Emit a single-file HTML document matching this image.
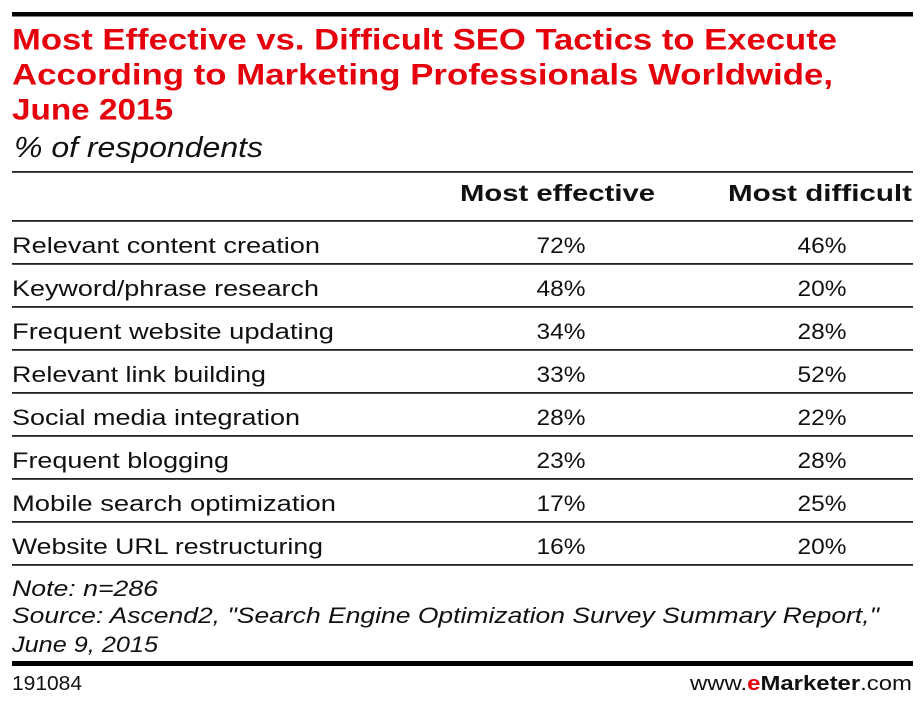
<!DOCTYPE html>
<html>
<head>
<meta charset="utf-8">
<style>
  html, body { margin:0; padding:0; background:#fff; }
  svg { display:block; }
  .t { font-family:"Liberation Sans", sans-serif; font-weight:bold; fill:#e6000c; font-size:30px; }
  .s { font-family:"Liberation Sans", sans-serif; font-style:italic; fill:#111; font-size:29px; }
  .h { font-family:"Liberation Sans", sans-serif; font-weight:bold; fill:#111; font-size:23px; }
  .r { font-family:"Liberation Sans", sans-serif; fill:#111; font-size:22.5px; }
  .n { font-family:"Liberation Sans", sans-serif; font-style:italic; fill:#111; font-size:22px; }
  .f { font-family:"Liberation Sans", sans-serif; fill:#111; font-size:20px; }
</style>
</head>
<body>
<svg width="922" height="706" viewBox="0 0 922 706" xmlns="http://www.w3.org/2000/svg">
  <rect x="0" y="0" width="922" height="706" fill="#fff"/>
  <rect x="12" y="12" width="901" height="4.5" fill="#000"/>

  <text class="t" x="12" y="49.5" textLength="825" lengthAdjust="spacingAndGlyphs">Most Effective vs. Difficult SEO Tactics to Execute</text>
  <text class="t" x="12" y="84.5" textLength="821" lengthAdjust="spacingAndGlyphs">According to Marketing Professionals Worldwide,</text>
  <text class="t" x="12" y="119.5" textLength="161" lengthAdjust="spacingAndGlyphs">June 2015</text>
  <text class="s" x="14" y="157" textLength="249" lengthAdjust="spacingAndGlyphs">% of respondents</text>

  <rect x="12" y="171" width="901" height="1.8" fill="#222"/>
  <rect x="12" y="220" width="901" height="1.8" fill="#222"/>
  <rect x="12" y="263" width="901" height="1.8" fill="#222"/>
  <rect x="12" y="306" width="901" height="1.8" fill="#222"/>
  <rect x="12" y="349" width="901" height="1.8" fill="#222"/>
  <rect x="12" y="392" width="901" height="1.8" fill="#222"/>
  <rect x="12" y="435" width="901" height="1.8" fill="#222"/>
  <rect x="12" y="478" width="901" height="1.8" fill="#222"/>
  <rect x="12" y="521" width="901" height="1.8" fill="#222"/>
  <rect x="12" y="564" width="901" height="1.8" fill="#222"/>

  <text class="h" x="460" y="201" textLength="195" lengthAdjust="spacingAndGlyphs">Most effective</text>
  <text class="h" x="728" y="201" textLength="184" lengthAdjust="spacingAndGlyphs">Most difficult</text>

  <g>
    <text class="r" x="12" y="253" textLength="308" lengthAdjust="spacingAndGlyphs">Relevant content creation</text>
    <text class="r" x="561" y="253" text-anchor="middle" textLength="49" lengthAdjust="spacingAndGlyphs">72%</text>
    <text class="r" x="822" y="253" text-anchor="middle" textLength="49" lengthAdjust="spacingAndGlyphs">46%</text>

    <text class="r" x="12" y="296" textLength="307" lengthAdjust="spacingAndGlyphs">Keyword/phrase research</text>
    <text class="r" x="561" y="296" text-anchor="middle" textLength="49" lengthAdjust="spacingAndGlyphs">48%</text>
    <text class="r" x="822" y="296" text-anchor="middle" textLength="49" lengthAdjust="spacingAndGlyphs">20%</text>

    <text class="r" x="12" y="339" textLength="322" lengthAdjust="spacingAndGlyphs">Frequent website updating</text>
    <text class="r" x="561" y="339" text-anchor="middle" textLength="49" lengthAdjust="spacingAndGlyphs">34%</text>
    <text class="r" x="822" y="339" text-anchor="middle" textLength="49" lengthAdjust="spacingAndGlyphs">28%</text>

    <text class="r" x="12" y="382" textLength="254" lengthAdjust="spacingAndGlyphs">Relevant link building</text>
    <text class="r" x="561" y="382" text-anchor="middle" textLength="49" lengthAdjust="spacingAndGlyphs">33%</text>
    <text class="r" x="822" y="382" text-anchor="middle" textLength="49" lengthAdjust="spacingAndGlyphs">52%</text>

    <text class="r" x="12" y="425" textLength="288" lengthAdjust="spacingAndGlyphs">Social media integration</text>
    <text class="r" x="561" y="425" text-anchor="middle" textLength="49" lengthAdjust="spacingAndGlyphs">28%</text>
    <text class="r" x="822" y="425" text-anchor="middle" textLength="49" lengthAdjust="spacingAndGlyphs">22%</text>

    <text class="r" x="12" y="468" textLength="217" lengthAdjust="spacingAndGlyphs">Frequent blogging</text>
    <text class="r" x="561" y="468" text-anchor="middle" textLength="49" lengthAdjust="spacingAndGlyphs">23%</text>
    <text class="r" x="822" y="468" text-anchor="middle" textLength="49" lengthAdjust="spacingAndGlyphs">28%</text>

    <text class="r" x="12" y="511" textLength="324" lengthAdjust="spacingAndGlyphs">Mobile search optimization</text>
    <text class="r" x="561" y="511" text-anchor="middle" textLength="49" lengthAdjust="spacingAndGlyphs">17%</text>
    <text class="r" x="822" y="511" text-anchor="middle" textLength="49" lengthAdjust="spacingAndGlyphs">25%</text>

    <text class="r" x="12" y="554" textLength="311" lengthAdjust="spacingAndGlyphs">Website URL restructuring</text>
    <text class="r" x="561" y="554" text-anchor="middle" textLength="49" lengthAdjust="spacingAndGlyphs">16%</text>
    <text class="r" x="822" y="554" text-anchor="middle" textLength="49" lengthAdjust="spacingAndGlyphs">20%</text>
  </g>

  <text class="n" x="12" y="596" textLength="146" lengthAdjust="spacingAndGlyphs">Note: n=286</text>
  <text class="n" x="12" y="623" textLength="867" lengthAdjust="spacingAndGlyphs">Source: Ascend2, "Search Engine Optimization Survey Summary Report,"</text>
  <text class="n" x="12" y="652" textLength="146" lengthAdjust="spacingAndGlyphs">June 9, 2015</text>

  <rect x="12" y="661" width="901" height="5" fill="#000"/>

  <text class="f" x="12" y="690" textLength="70" lengthAdjust="spacingAndGlyphs">191084</text>
  <text class="f" x="690" y="690" textLength="222" lengthAdjust="spacingAndGlyphs">www.<tspan font-weight="bold" fill="#e6000c">e</tspan><tspan font-weight="bold">Marketer</tspan>.com</text>
</svg>
</body>
</html>
